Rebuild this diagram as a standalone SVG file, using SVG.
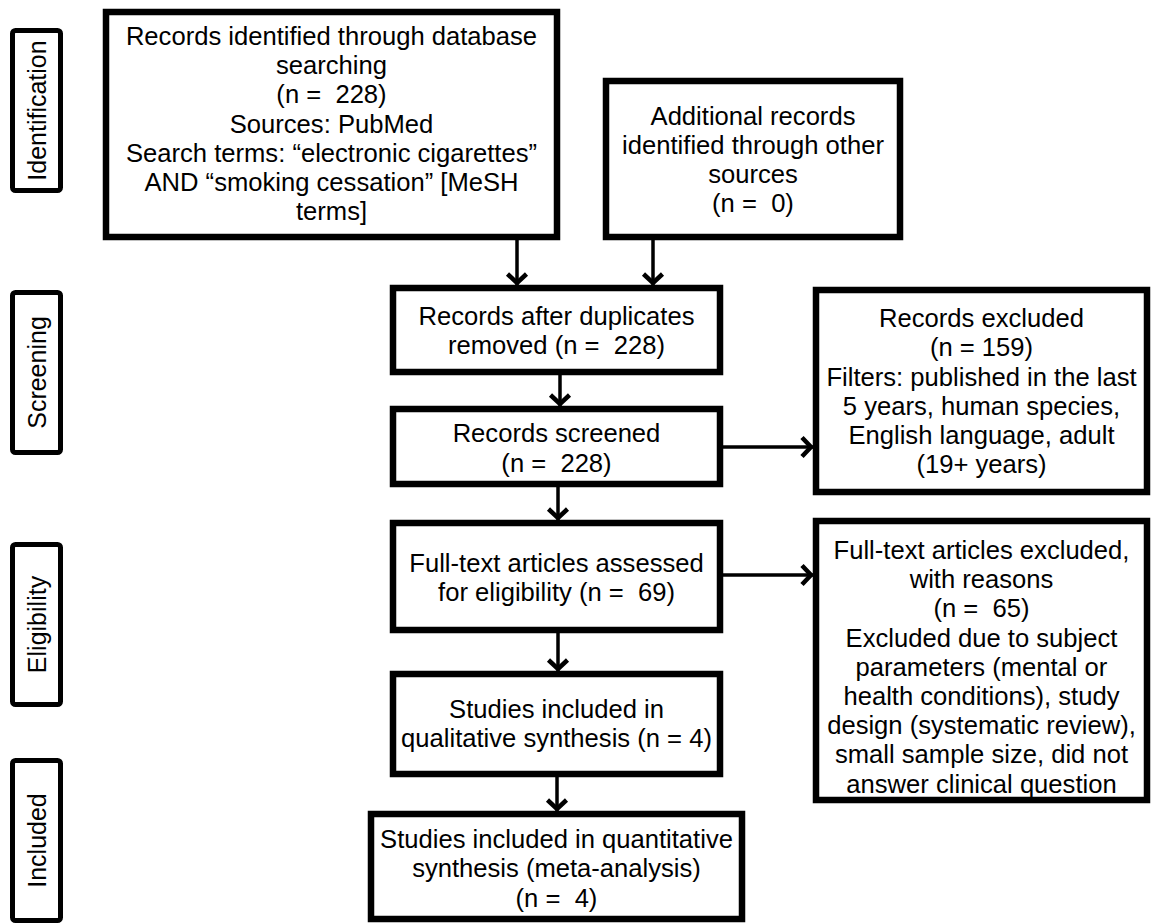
<svg xmlns="http://www.w3.org/2000/svg" width="1152" height="924" viewBox="0 0 1152 924">
<style>
text{font-family:"Liberation Sans",Arial,sans-serif;font-size:25.6px;fill:#000;text-anchor:middle}
.box{fill:#fff;stroke:#000;stroke-width:6.5}
.side{fill:#fff;stroke:#000;stroke-width:5}
.side-t{font-size:25px}
.conn{stroke:#000;stroke-width:3.5;fill:none}
</style>
<defs>
<marker id="ah" viewBox="-16 -13 20 26" refX="0" refY="0" markerWidth="20" markerHeight="26" markerUnits="userSpaceOnUse" orient="auto">
<path d="M-11,-9.5 L-2,0 L-11,9.5" fill="none" stroke="#000" stroke-width="4.5"/>
</marker>
</defs>
<rect width="1152" height="924" fill="#fff"/>

<g id="label-identification">
<rect class="side" x="12.5" y="30.5" width="48" height="160" rx="3"/>
<text class="side-t" transform="translate(45.5,110.5) rotate(-90)">Identification</text>
</g>
<g id="label-screening">
<rect class="side" x="12.5" y="292.5" width="48" height="160" rx="3"/>
<text class="side-t" transform="translate(45.5,372.5) rotate(-90)">Screening</text>
</g>
<g id="label-eligibility">
<rect class="side" x="12.5" y="544.5" width="48" height="160" rx="3"/>
<text class="side-t" transform="translate(45.5,624.5) rotate(-90)">Eligibility</text>
</g>
<g id="label-included">
<rect class="side" x="12.5" y="760.5" width="48" height="160" rx="3"/>
<text class="side-t" transform="translate(45.5,840.5) rotate(-90)">Included</text>
</g>

<g id="connectors">
<line class="conn" x1="517" y1="240" x2="517" y2="285" marker-end="url(#ah)"/>
<line class="conn" x1="653" y1="240" x2="653" y2="285" marker-end="url(#ah)"/>
<line class="conn" x1="560" y1="375" x2="560" y2="406" marker-end="url(#ah)"/>
<line class="conn" x1="558" y1="487" x2="558" y2="520" marker-end="url(#ah)"/>
<line class="conn" x1="558" y1="633" x2="558" y2="671" marker-end="url(#ah)"/>
<line class="conn" x1="557" y1="777" x2="557" y2="811" marker-end="url(#ah)"/>
<line class="conn" x1="723" y1="447" x2="813" y2="447" marker-end="url(#ah)"/>
<line class="conn" x1="723" y1="575" x2="813" y2="575" marker-end="url(#ah)"/>
</g>

<g id="node-database">
<rect class="box" x="106" y="12" width="451" height="225"/>
<text xml:space="preserve" x="331.5" y="45">Records identified through database</text>
<text xml:space="preserve" x="331.5" y="74">searching</text>
<text xml:space="preserve" x="331.5" y="103">(n =  228)</text>
<text xml:space="preserve" x="331.5" y="133">Sources: PubMed</text>
<text xml:space="preserve" x="331.5" y="162">Search terms: “electronic cigarettes”</text>
<text xml:space="preserve" x="331.5" y="191">AND “smoking cessation” [MeSH</text>
<text xml:space="preserve" x="331.5" y="220">terms]</text>
</g>

<g id="node-other-sources">
<rect class="box" x="606" y="81" width="294" height="156"/>
<text xml:space="preserve" x="753" y="125">Additional records</text>
<text xml:space="preserve" x="753" y="154">identified through other</text>
<text xml:space="preserve" x="753" y="183">sources</text>
<text xml:space="preserve" x="753" y="212">(n =  0)</text>
</g>

<g id="node-duplicates">
<rect class="box" x="393" y="288" width="327" height="84"/>
<text xml:space="preserve" x="556.5" y="325">Records after duplicates</text>
<text xml:space="preserve" x="556.5" y="354">removed (n =  228)</text>
</g>

<g id="node-screened">
<rect class="box" x="393" y="409" width="327" height="75"/>
<text xml:space="preserve" x="556.5" y="442">Records screened</text>
<text xml:space="preserve" x="556.5" y="472">(n =  228)</text>
</g>

<g id="node-fulltext">
<rect class="box" x="393" y="523" width="327" height="107"/>
<text xml:space="preserve" x="556.5" y="572">Full-text articles assessed</text>
<text xml:space="preserve" x="556.5" y="601">for eligibility (n =  69)</text>
</g>

<g id="node-qualitative">
<rect class="box" x="393" y="674" width="327" height="100"/>
<text xml:space="preserve" x="556.5" y="718">Studies included in</text>
<text xml:space="preserve" x="556.5" y="747">qualitative synthesis (n = 4)</text>
</g>

<g id="node-quantitative">
<rect class="box" x="371" y="814" width="371" height="105"/>
<text xml:space="preserve" x="556.5" y="848">Studies included in quantitative</text>
<text xml:space="preserve" x="556.5" y="877">synthesis (meta-analysis)</text>
<text xml:space="preserve" x="556.5" y="907">(n =  4)</text>
</g>

<g id="node-records-excluded">
<rect class="box" x="816" y="290" width="331" height="202"/>
<text xml:space="preserve" x="981.5" y="327">Records excluded</text>
<text xml:space="preserve" x="981.5" y="356">(n = 159)</text>
<text xml:space="preserve" x="981.5" y="385.5">Filters: published in the last</text>
<text xml:space="preserve" x="981.5" y="415">5 years, human species,</text>
<text xml:space="preserve" x="981.5" y="444">English language, adult</text>
<text xml:space="preserve" x="981.5" y="473">(19+ years)</text>
</g>

<g id="node-fulltext-excluded">
<rect class="box" x="816" y="521" width="331" height="279"/>
<text xml:space="preserve" x="981.5" y="559">Full-text articles excluded,</text>
<text xml:space="preserve" x="981.5" y="588.2">with reasons</text>
<text xml:space="preserve" x="981.5" y="617.4">(n =  65)</text>
<text xml:space="preserve" x="981.5" y="646.6">Excluded due to subject</text>
<text xml:space="preserve" x="981.5" y="675.8">parameters (mental or</text>
<text xml:space="preserve" x="981.5" y="705">health conditions), study</text>
<text xml:space="preserve" x="981.5" y="734.2">design (systematic review),</text>
<text xml:space="preserve" x="981.5" y="763.4">small sample size, did not</text>
<text xml:space="preserve" x="981.5" y="792.6">answer clinical question</text>
</g>
</svg>
